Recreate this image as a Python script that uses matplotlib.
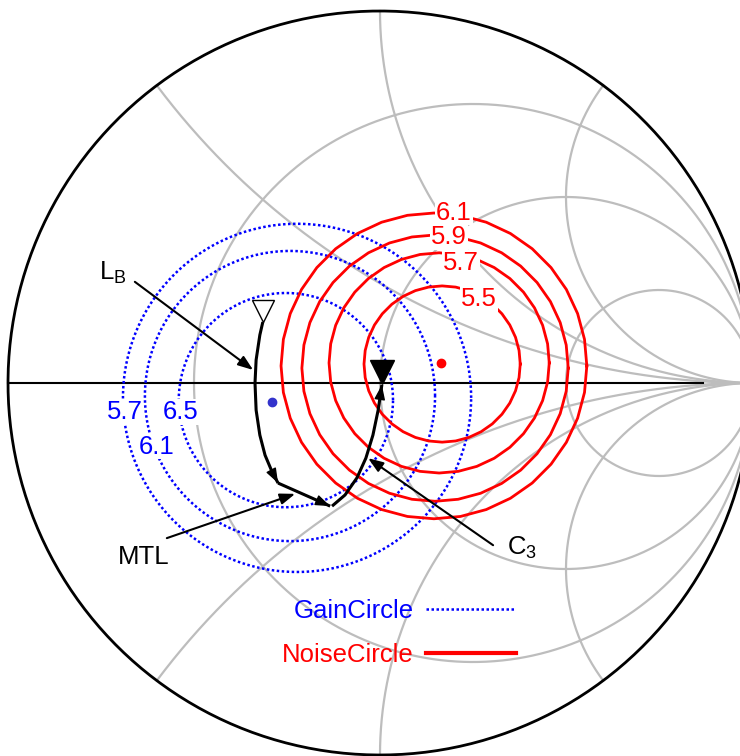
import numpy as np
import matplotlib.pyplot as plt
from matplotlib.lines import Line2D

plt.rcParams['font.family'] = ['Liberation Sans', 'DejaVu Sans']
plt.rcParams['mathtext.fontset'] = 'custom'
plt.rcParams['mathtext.rm'] = 'Liberation Sans'

# Smith chart grid (normalised resistance / reactance)
grid_r = [1 / 3, 1.0, 3.0]
grid_x = [0.5, 1.0, 2.0]

# Gain circles: label, centre (Re, Im of Gamma), radius
gain_labels = ['5.7', '6.1', '6.5']
gain_cx = [-0.223, -0.242, -0.253]
gain_cy = [-0.040, -0.035, -0.046]
gain_rad = [0.468, 0.390, 0.288]
gain_opt = (-0.290, -0.051)

# Noise circles
noise_labels = ['5.5', '5.7', '5.9', '6.1']
noise_cx = [0.167, 0.159, 0.148, 0.145]
noise_cy = [0.051, 0.054, 0.040, 0.046]
noise_rad = [0.210, 0.296, 0.358, 0.411]
noise_opt = (0.164, 0.054)

# Matching path: L_B, then MTL, then C_3
lb_re = [-0.315, -0.323, -0.333, -0.336, -0.333, -0.323, -0.309, -0.290, -0.274]
lb_im = [0.164, 0.129, 0.062, 0.0, -0.073, -0.140, -0.194, -0.239, -0.269]
mtl_re = [-0.274, -0.134]
mtl_im = [-0.269, -0.331]
c3_re = [-0.129, -0.094, -0.062, -0.038, -0.019, -0.005, 0.005]
c3_im = [-0.331, -0.301, -0.255, -0.202, -0.140, -0.073, -0.005]
start_pt = (-0.315, 0.194)
end_pt = (0.005, 0.030)


def gamma(z):
    return (z - 1) / (z + 1)


fig = plt.figure(figsize=(7.4, 7.56), dpi=100)
ax = fig.add_axes([0, 0, 1, 1])
ax.set_xlim(-380 / 372, 360 / 372)
ax.set_ylim(-373 / 372, 383 / 372)
ax.axis('off')

grey = '#bdbdbd'
t = np.tan(np.linspace(-np.pi / 2 + 1e-4, np.pi / 2 - 1e-4, 2000))
for r in grid_r:
    g = gamma(r + 1j * t * 5)
    ax.plot(g.real, g.imag, color=grey, lw=1.6, zorder=1)
s = np.tan(np.linspace(0, np.pi / 2 - 1e-4, 2000)) * 5
for x in grid_x:
    for sign in (1, -1):
        g = gamma(s + 1j * sign * x)
        ax.plot(g.real, g.imag, color=grey, lw=1.6, zorder=1)

# outer circle and real axis
phi = np.linspace(0, 2 * np.pi, 400)
ax.plot(np.cos(phi), np.sin(phi), color='black', lw=2, zorder=2)
ax.plot([-1, 0.868], [0, 0], color='black', lw=1.5, zorder=2)

# gain circles (dotted blue)
phi_c = np.linspace(0, 2 * np.pi, 200)
for cx, cy, rad in zip(gain_cx, gain_cy, gain_rad):
    ax.plot(cx + rad * np.cos(phi_c), cy + rad * np.sin(phi_c),
            color='#0000ff', lw=1.8, linestyle=(0, (1, 1)), zorder=3)
ax.plot(*gain_opt, 'o', color='#3333cc', ms=6, zorder=4)

# noise circles (red, slightly faceted)
phi_n = np.linspace(0, 2 * np.pi, 37)
for cx, cy, rad in zip(noise_cx, noise_cy, noise_rad):
    ax.plot(cx + rad * np.cos(phi_n), cy + rad * np.sin(phi_n),
            color='#ff0000', lw=2.0, zorder=3)
ax.plot(*noise_opt, 'o', color='#ff0000', ms=6, zorder=4)

# circle labels
box = dict(facecolor='white', edgecolor='none', pad=0.5)
noise_lx = [0.266, 0.218, 0.185, 0.199]
noise_ly = [0.226, 0.323, 0.392, 0.458]
for lab, lx, ly in zip(noise_labels, noise_lx, noise_ly):
    ax.text(lx, ly, lab, color='#ff0000', fontsize=18.5, ha='center',
            va='center', bbox=box, zorder=5)
gain_lx = [-0.687, -0.601, -0.537]
gain_ly = [-0.078, -0.171, -0.078]
for lab, lx, ly in zip(gain_labels, gain_lx, gain_ly):
    ax.text(lx, ly, lab, color='#0000ff', fontsize=18.5, ha='center',
            va='center', bbox=box, zorder=5)

# matching path with arrow heads
head = dict(arrowstyle='-|>,head_length=0.6,head_width=0.22', color='black',
            lw=1, shrinkA=0, shrinkB=0, mutation_scale=15)
for xs, ys in [(lb_re, lb_im), (mtl_re, mtl_im), (c3_re, c3_im)]:
    ax.plot(xs, ys, color='black', lw=2.2, zorder=6, solid_capstyle='butt')
    ax.annotate('', xy=(xs[-1], ys[-1]), xytext=(xs[-2], ys[-2]),
                arrowprops=head, zorder=7)
ax.plot(*start_pt, 'v', ms=16, mfc='white', mec='black', mew=1, zorder=7)
ax.plot(*end_pt, 'v', ms=17, color='black', zorder=7)

# element labels with pointers
ptr = dict(arrowstyle='-|>,head_length=0.6,head_width=0.22', color='black',
           lw=1.5, shrinkA=0, shrinkB=0, mutation_scale=15)
ax.annotate('', xy=(-0.341, 0.035), xytext=(-0.659, 0.272), arrowprops=ptr, zorder=7)
ax.annotate('', xy=(-0.228, -0.298), xytext=(-0.573, -0.417), arrowprops=ptr, zorder=7)
ax.annotate('', xy=(-0.032, -0.202), xytext=(0.304, -0.436), arrowprops=ptr, zorder=7)
ax.text(-0.755, 0.277, r'L$_\mathregular{B}$', fontsize=18.5, ha='left',
        va='baseline')
ax.text(-0.634, -0.468, 'MTL', fontsize=18.5, ha='center', va='center')
ax.text(0.341, -0.460, r'C$_\mathregular{3}$', fontsize=18.5, ha='left',
        va='baseline')

# legend: label left of the line key
handles = [Line2D([], [], color='#0000ff', lw=1.8, linestyle=(0, (1, 1))),
           Line2D([], [], color='#ff0000', lw=3)]
ax.legend(handles, ['GainCircle', 'NoiseCircle'], markerfirst=False,
          labelcolor='linecolor', frameon=False, fontsize=18.5,
          handlelength=3.5, handletextpad=0.5, labelspacing=0.75,
          loc='center', bbox_to_anchor=(0.051, -0.672), bbox_transform=ax.transData)

fig.savefig('out.png', dpi=100)
